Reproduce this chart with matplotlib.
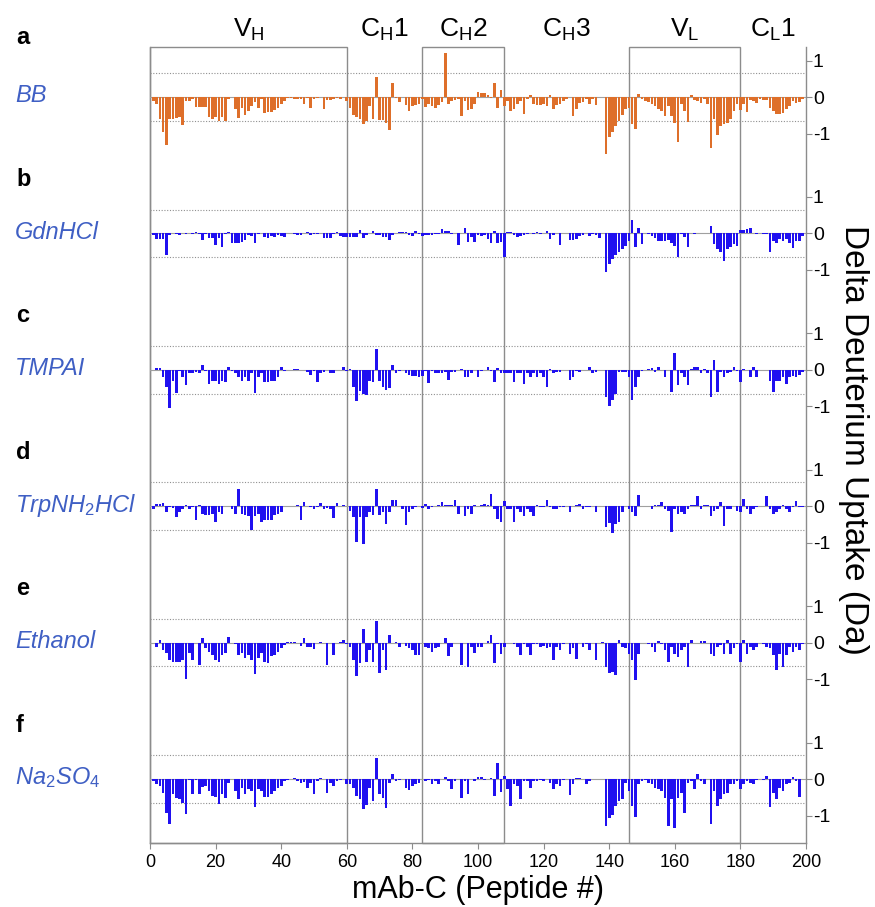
import numpy as np
import matplotlib
matplotlib.use("Agg")
import matplotlib.pyplot as plt

plt.rcParams['font.family'] = ['Liberation Sans', 'DejaVu Sans']
plt.rcParams['mathtext.fontset'] = 'custom'
plt.rcParams['mathtext.rm'] = 'Liberation Sans'
plt.rcParams['mathtext.it'] = 'Liberation Sans:italic'

# ---- data (delta deuterium uptake, Da, peptides 1..199) ----
bb = [
    -0.10, -0.20, -0.60, -0.95, -1.32, -0.60, -0.60, -0.58, -0.55, -0.78,
    -0.12, -0.12, -0.05, -0.28, -0.27, -0.27, -0.27, -0.55, -0.60, -0.55,
    -0.65, -0.55, -0.65, -0.06, 0.00, -0.32, -0.57, -0.30, -0.48, -0.38,
    -0.25, -0.15, -0.30, -0.06, -0.43, -0.40, -0.40, -0.35, -0.30, -0.20,
    -0.12, -0.03, -0.02, -0.05, -0.06, -0.05, -0.20, -0.02, -0.29, -0.05,
    -0.02, 0.00, -0.34, -0.08, -0.08, -0.06, -0.04, -0.06, 0.00, -0.12,
    -0.30, -0.50, -0.55, -0.60, -0.75, -0.65, -0.25, -0.60, 0.55, -0.62,
    -0.62, -0.70, -0.90, 0.38, -0.02, -0.14, 0.00, -0.22, -0.38, -0.25,
    -0.22, -0.20, -0.05, -0.27, -0.20, -0.25, -0.30, -0.22, -0.15, 1.20,
    -0.20, -0.10, -0.08, -0.06, -0.52, -0.10, -0.36, -0.33, -0.20, 0.13,
    0.10, 0.10, 0.05, -0.02, 0.37, -0.30, 0.20, -0.25, -0.11, -0.38,
    -0.34, -0.20, -0.11, -0.47, -0.06, 0.05, -0.20, -0.23, -0.23, -0.18,
    -0.25, 0.05, -0.34, -0.23, -0.20, -0.11, -0.06, 0.00, -0.52, -0.32,
    -0.17, -0.15, -0.06, -0.20, -0.06, -0.23, 0.00, 0.00, -1.57, -1.10,
    -0.96, -0.80, -0.66, -0.50, -0.34, -0.30, -0.75, -0.88, 0.08, -0.06,
    -0.11, -0.15, -0.20, -0.25, -0.34, -0.38, -0.52, -0.25, -0.52, -0.70,
    -1.23, -0.20, -0.38, -0.68, 0.05, -0.08, -0.11, -0.17, -0.06, -0.20,
    -1.39, -0.61, -1.05, -0.80, -0.75, -0.70, -0.61, -0.38, -0.20, -0.36,
    -0.20, -0.41, -0.08, -0.11, -0.17, -0.05, -0.08, -0.08, -0.29, -0.38,
    -0.47, -0.47, -0.43, -0.34, -0.25, -0.11, -0.17, -0.15, -0.06,
]
gdnhcl = [
    -0.05, -0.14, -0.14, -0.14, -0.60, -0.05, 0.02, -0.03, -0.05, 0.02,
    -0.03, 0.02, -0.02, 0.03, -0.02, -0.18, -0.02, -0.12, -0.12, -0.32,
    -0.12, -0.37, -0.02, 0.03, -0.26, -0.26, -0.26, -0.23, -0.18, -0.05,
    -0.08, -0.27, -0.03, 0.02, -0.09, -0.12, -0.07, -0.09, -0.05, -0.07,
    -0.09, 0.00, 0.00, -0.01, -0.05, -0.05, 0.02, 0.04, -0.05, -0.03,
    -0.01, 0.00, -0.12, -0.12, -0.12, -0.03, 0.04, -0.06, -0.10, -0.10,
    -0.09, -0.09, -0.09, 0.09, -0.12, -0.05, 0.02, 0.07, -0.05, -0.05,
    -0.11, -0.09, -0.18, -0.05, 0.02, 0.04, 0.04, 0.04, -0.05, -0.07,
    0.07, -0.02, -0.08, -0.05, -0.05, -0.05, -0.03, -0.03, 0.12, 0.06,
    0.06, -0.02, 0.00, -0.32, 0.00, 0.14, -0.23, -0.10, -0.23, -0.05,
    -0.06, -0.05, -0.15, -0.25, 0.07, -0.26, -0.24, -0.66, 0.05, 0.03,
    -0.05, -0.09, -0.06, -0.05, -0.02, 0.00, -0.02, 0.03, -0.03, 0.00,
    0.07, -0.14, -0.04, 0.00, -0.32, 0.00, 0.00, -0.18, -0.18, -0.14,
    -0.08, -0.05, 0.00, -0.08, -0.02, -0.05, -0.13, 0.00, -1.07, -0.84,
    -0.70, -0.60, -0.52, -0.43, -0.34, -0.20, 0.37, -0.38, 0.16, -0.28,
    0.00, -0.02, -0.06, -0.13, -0.20, -0.20, -0.20, -0.18, -0.25, -0.34,
    -0.66, -0.02, -0.10, -0.38, 0.00, -0.02, 0.00, 0.00, 0.00, 0.00,
    0.21, -0.29, -0.43, -0.52, -0.75, -0.43, -0.38, -0.29, -0.34, 0.09,
    0.09, 0.12, 0.16, 0.00, -0.02, 0.00, -0.02, -0.02, -0.50, -0.20,
    -0.25, -0.14, -0.20, -0.14, -0.25, -0.41, -0.20, -0.20, -0.06,
]
tmpai = [
    0.00, 0.05, 0.05, -0.20, -0.47, -1.04, -0.30, -0.64, -0.02, -0.20,
    -0.43, -0.10, -0.10, -0.06, -0.10, 0.14, -0.02, -0.38, -0.30, -0.30,
    -0.38, -0.30, -0.34, 0.09, -0.02, -0.10, -0.20, -0.30, -0.20, -0.30,
    -0.10, -0.64, -0.20, -0.10, -0.34, -0.34, -0.30, -0.30, -0.20, 0.07,
    -0.02, 0.00, 0.00, 0.02, 0.03, 0.00, 0.00, -0.06, -0.15, -0.04,
    -0.34, -0.09, -0.06, 0.00, -0.09, -0.10, 0.00, 0.00, 0.07, -0.02,
    0.03, -0.47, -0.86, -0.57, -0.66, -0.68, -0.30, -0.34, 0.58, -0.30,
    -0.47, -0.55, -0.50, 0.12, -0.09, -0.04, 0.00, -0.10, -0.15, -0.18,
    -0.18, -0.20, -0.18, -0.02, -0.37, -0.04, -0.10, -0.09, -0.10, -0.06,
    -0.27, -0.06, -0.06, 0.00, 0.03, -0.20, -0.20, -0.09, 0.00, -0.20,
    -0.02, 0.00, 0.07, -0.02, -0.34, 0.05, -0.10, -0.10, -0.10, -0.10,
    -0.34, -0.10, -0.10, -0.38, -0.10, -0.20, -0.10, -0.20, -0.10, -0.20,
    -0.46, 0.03, -0.10, -0.06, -0.06, 0.00, 0.00, -0.29, -0.20, -0.02,
    -0.06, 0.00, 0.00, 0.07, -0.10, -0.06, 0.00, 0.00, -0.75, -0.98,
    -0.84, -0.66, -0.06, -0.06, -0.06, -0.20, -0.84, -0.47, -0.20, -0.04,
    0.00, 0.03, 0.05, -0.06, 0.07, 0.00, -0.20, 0.00, -0.61, 0.46,
    -0.43, -0.10, -0.20, -0.43, 0.03, 0.07, 0.09, -0.09, 0.03, -0.10,
    -0.75, 0.26, -0.61, -0.06, -0.20, -0.10, -0.06, 0.07, -0.02, -0.34,
    0.03, 0.00, -0.20, 0.07, -0.20, 0.00, 0.00, 0.00, -0.30, -0.61,
    -0.30, -0.30, -0.20, -0.38, -0.20, -0.18, -0.20, -0.15, -0.06,
]
trpnh2hcl = [
    -0.07, 0.06, 0.06, 0.09, -0.15, -0.03, -0.05, -0.30, -0.16, -0.07,
    0.04, -0.07, -0.03, -0.37, 0.04, -0.20, -0.24, -0.24, -0.20, -0.44,
    -0.16, -0.20, 0.00, 0.00, -0.07, -0.20, 0.46, -0.20, -0.24, -0.26,
    -0.65, -0.26, -0.20, -0.42, -0.37, -0.37, -0.37, -0.24, -0.20, -0.16,
    0.00, 0.00, 0.00, 0.00, 0.04, -0.37, 0.11, 0.00, -0.03, -0.07,
    -0.03, 0.09, -0.07, -0.05, -0.09, -0.33, 0.09, 0.00, 0.02, 0.00,
    -0.12, -0.30, -0.99, -0.30, -1.03, -0.30, -0.16, -0.24, 0.46, -0.24,
    -0.16, -0.48, -0.16, 0.18, 0.18, 0.00, -0.07, -0.51, -0.16, -0.07,
    -0.03, 0.00, -0.05, 0.07, -0.07, -0.03, 0.00, 0.02, 0.11, 0.04,
    0.02, 0.02, 0.16, -0.20, 0.00, -0.26, -0.07, -0.20, 0.04, 0.00,
    0.02, 0.06, 0.04, 0.34, -0.07, -0.35, -0.42, 0.13, -0.07, -0.07,
    -0.42, -0.07, -0.16, -0.26, -0.07, -0.16, -0.26, 0.02, -0.03, -0.03,
    0.18, -0.03, -0.09, -0.07, -0.03, -0.03, 0.00, -0.16, 0.00, 0.02,
    0.06, -0.07, -0.03, -0.03, 0.00, -0.15, 0.00, 0.00, -0.58, -0.46,
    -0.74, -0.50, -0.44, -0.16, 0.00, -0.07, -0.16, -0.26, 0.31, 0.00,
    0.00, 0.00, -0.07, 0.02, 0.02, 0.11, -0.07, -0.12, -0.70, -0.07,
    -0.20, -0.16, -0.20, -0.07, 0.02, 0.02, 0.29, -0.07, 0.02, 0.02,
    -0.28, -0.12, -0.09, 0.11, -0.53, -0.07, -0.07, 0.00, -0.12, -0.16,
    0.20, -0.07, -0.20, -0.07, -0.03, 0.00, 0.00, 0.29, -0.07, -0.20,
    -0.16, -0.07, 0.04, -0.07, -0.16, -0.03, 0.13, -0.03, -0.03,
]
ethanol = [
    0.00, -0.11, 0.07, -0.20, -0.29, -0.47, -0.52, -0.52, -0.52, -0.47,
    -1.00, -0.29, -0.47, 0.00, -0.61, 0.12, -0.15, -0.25, -0.34, -0.47,
    -0.52, -0.34, -0.29, 0.16, 0.00, -0.03, -0.34, -0.29, -0.43, -0.34,
    -0.47, -0.86, -0.43, -0.29, -0.52, -0.55, -0.38, -0.34, -0.25, -0.15,
    -0.06, 0.02, 0.02, 0.02, -0.02, -0.09, 0.12, -0.11, -0.11, -0.18,
    0.00, 0.03, -0.02, -0.61, 0.00, -0.34, 0.00, 0.03, 0.07, -0.04,
    -0.11, -0.47, -0.91, -0.57, 0.37, -0.52, -0.20, -0.52, 0.60, -0.82,
    -0.20, -0.75, 0.21, 0.00, 0.03, -0.11, -0.02, -0.09, -0.15, -0.20,
    -0.34, -0.34, -0.02, -0.11, -0.15, -0.25, -0.15, -0.11, -0.02, 0.12,
    -0.38, -0.11, 0.00, 0.00, -0.61, -0.02, -0.66, -0.11, -0.29, -0.11,
    -0.12, -0.01, 0.05, 0.20, -0.56, -0.03, -0.30, -0.12, -0.01, 0.00,
    -0.03, -0.12, -0.35, -0.03, -0.12, -0.35, -0.03, -0.05, -0.12, -0.10,
    -0.16, -0.12, -0.48, -0.12, -0.20, -0.03, -0.01, -0.30, -0.16, -0.44,
    0.00, -0.12, -0.03, -0.20, 0.00, -0.48, 0.00, 0.02, -0.67, -0.83,
    -0.80, -0.90, 0.08, -0.12, -0.16, -0.30, -0.48, -1.03, -0.30, -0.01,
    0.00, -0.03, -0.12, -0.25, 0.05, -0.03, -0.20, -0.53, -0.12, -0.30,
    -0.39, -0.20, -0.12, -0.67, 0.06, 0.00, -0.01, 0.05, 0.05, 0.00,
    -0.30, -0.37, -0.12, -0.07, -0.30, 0.08, -0.30, -0.16, -0.03, -0.53,
    0.08, -0.30, -0.12, -0.20, -0.12, -0.01, -0.05, -0.12, -0.16, -0.35,
    -0.74, -0.30, -0.67, -0.35, -0.12, -0.25, -0.12, -0.20, -0.03,
]
na2so4 = [
    -0.05, -0.15, -0.19, -0.37, -0.92, -1.22, -0.42, -0.53, -0.56, -0.65,
    -0.95, -0.02, -0.42, -0.02, -0.42, -0.22, -0.19, -0.33, -0.47, -0.49,
    -0.68, -0.42, -0.51, -0.10, 0.00, -0.33, -0.56, -0.24, -0.42, -0.28,
    -0.33, -0.77, -0.28, -0.33, -0.49, -0.49, -0.42, -0.33, -0.24, -0.19,
    -0.06, -0.02, 0.00, 0.02, -0.06, -0.10, -0.07, -0.24, -0.10, -0.42,
    -0.06, 0.04, -0.01, -0.37, -0.10, -0.19, -0.06, -0.04, 0.00, -0.15,
    -0.15, -0.24, -0.47, -0.56, -0.83, -0.70, -0.24, -0.60, 0.57, -0.42,
    -0.51, -0.79, -0.10, 0.15, -0.06, -0.04, 0.00, -0.24, -0.31, -0.19,
    -0.15, -0.10, 0.00, -0.06, -0.04, -0.13, -0.06, -0.15, 0.00, 0.06,
    -0.06, -0.28, -0.06, 0.00, -0.51, -0.06, -0.42, 0.00, -0.06, 0.06,
    0.05, -0.04, -0.01, 0.02, -0.47, 0.45, -0.35, 0.08, -0.28, -0.74,
    -0.15, -0.19, -0.56, -0.06, -0.06, -0.24, -0.06, -0.06, -0.04, -0.06,
    0.00, -0.10, -0.28, -0.15, -0.19, -0.04, -0.01, -0.44, -0.15, 0.02,
    0.03, -0.01, -0.15, -0.06, 0.00, 0.00, 0.00, 0.00, -1.29, -1.06,
    -0.99, -0.74, -0.60, -0.56, -0.10, -0.33, -0.74, -1.04, -0.15, -0.06,
    -0.04, -0.10, -0.15, -0.24, -0.28, -0.33, -0.51, -1.29, -0.56, -1.33,
    -0.51, -0.37, -0.92, -0.10, -0.06, -0.28, 0.13, -0.06, -0.15, 0.00,
    -1.22, -0.33, -0.74, -0.56, -0.42, -0.37, -0.15, -0.15, -0.06, -0.28,
    -0.15, -0.06, -0.10, -0.15, -0.04, 0.00, -0.04, 0.08, -0.77, -0.38,
    -0.56, -0.24, -0.33, -0.15, -0.10, 0.05, -0.06, -0.49, 0.00,
]

series = [bb, gdnhcl, tmpai, trpnh2hcl, ethanol, na2so4]
conditions = ['BB', 'GdnHCl', 'TMPAI', 'TrpNH$_2$HCl', 'Ethanol', 'Na$_2$SO$_4$']
panel_tags = ['a', 'b', 'c', 'd', 'e', 'f']
domains = ['V$_\\mathrm{H}$', 'C$_\\mathrm{H}$1', 'C$_\\mathrm{H}$2',
           'C$_\\mathrm{H}$3', 'V$_\\mathrm{L}$', 'C$_\\mathrm{L}$1']
domain_edges = [0, 60, 83, 108, 146, 180, 200]
boxed = [True, False, True, False, True, False]
threshold = 0.65

ORANGE = '#DE6F2A'
BLUE = '#2010F0'
LABEL_BLUE = '#3F5FC4'
GREY = '#8c8c8c'

W, H = 875, 907
fig = plt.figure(figsize=(W / 100, H / 100), dpi=100)

def fx(px):
    return px / W

def fy(py):
    return 1 - py / H

left_px, right_px, top_px, bot_px = 150, 806, 47, 843

# frame with domain boxes and the peptide axis
frame = fig.add_axes([fx(left_px), fy(bot_px), fx(right_px - left_px), (bot_px - top_px) / H])
frame.set_xlim(0, 200)
frame.set_ylim(0, 1)
frame.set_yticks([])
frame.set_xticks(np.arange(0, 201, 20))
frame.tick_params(axis='x', labelsize=13, length=4, color=GREY, pad=4)
frame.spines['top'].set_visible(False)
for s in ['left', 'right', 'bottom']:
    frame.spines[s].set_color(GREY)
    frame.spines[s].set_linewidth(1.0)
for i in range(len(domains)):
    a, b = domain_edges[i], domain_edges[i + 1]
    if boxed[i]:
        frame.axvspan(a, b, 0, 1, fill=False, edgecolor=GREY, lw=1.0, clip_on=False)
    frame.text((a + b) / 2, 1.0 + 17 / (bot_px - top_px), domains[i],
               transform=frame.get_xaxis_transform(), ha='center', va='center',
               fontsize=19)
frame.set_xlabel('mAb-C (Peptide #)', fontsize=22, labelpad=3)

# stacked panels
unit_px = 36.5
half_px = 68
peptide = np.arange(1, len(bb) + 1)
for i, vals in enumerate(series):
    zero_px = 97 + 136.4 * i
    ax = fig.add_axes([fx(left_px), fy(zero_px + half_px), fx(right_px - left_px), 2 * half_px / H])
    ax.patch.set_alpha(0)
    lim = half_px / unit_px
    ax.set_xlim(0, 200)
    ax.set_ylim(-lim, lim)
    color = ORANGE if i == 0 else BLUE
    ax.axhline(0, color='#a0a0a0', lw=0.8, zorder=1)
    ax.axhline(threshold, color='#909090', lw=0.8, ls=(0, (1, 1.5)), zorder=1)
    ax.axhline(-threshold, color='#909090', lw=0.8, ls=(0, (1, 1.5)), zorder=1)
    ax.bar(peptide, vals, width=0.8, color=color, zorder=2)
    for s in ax.spines.values():
        s.set_visible(False)
    ax.set_xticks([])
    ax.yaxis.tick_right()
    ax.set_yticks([-1, 0, 1])
    ax.set_yticklabels(['-1', '0', '1'])
    ax.tick_params(axis='y', labelsize=14, length=4, width=0.8, color=GREY, pad=1)

    tag_py = 38 if i == 0 else zero_px - 54
    fig.text(fx(16), fy(tag_py), panel_tags[i], fontsize=17, fontweight='bold',
             ha='left', va='center')
    fig.text(fx(15), fy(zero_px - 1), conditions[i], fontsize=17, style='italic',
             color=LABEL_BLUE, ha='left', va='center')

fig.text(fx(853), fy(440), 'Delta Deuterium Uptake (Da)', rotation=270,
         fontsize=24, ha='center', va='center')

fig.savefig('out.png', dpi=100)
